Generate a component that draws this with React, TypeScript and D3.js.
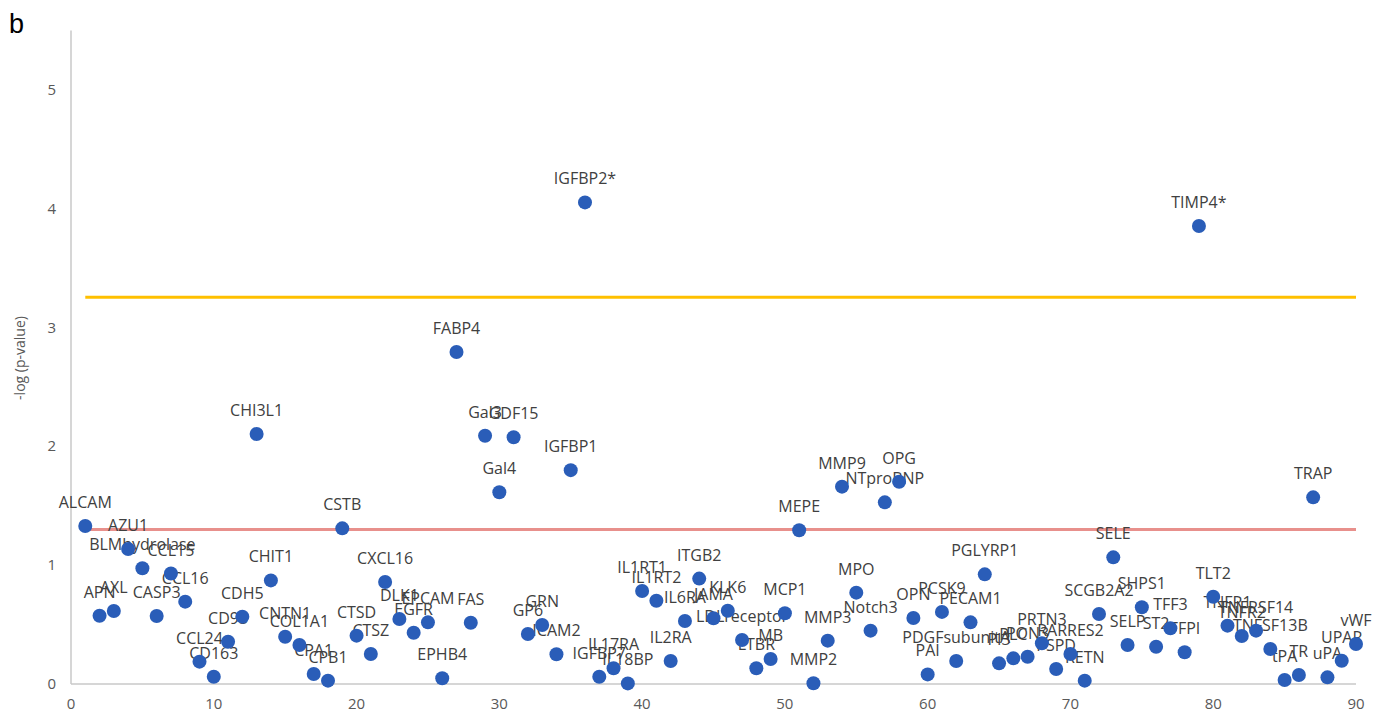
import React from "react";
import * as d3 from "d3";

const names: string[] = [
  "ALCAM", "APN", "AXL", "AZU1", "BLMhydrolase", "CASP3", "CCL15", "CCL16", "CCL24", "CD163",
  "CD93", "CDH5", "CHI3L1", "CHIT1", "CNTN1", "COL1A1", "CPA1", "CPB1", "CSTB", "CTSD",
  "CTSZ", "CXCL16", "DLK1", "EGFR", "EPCAM", "EPHB4", "FABP4", "FAS", "Gal3", "Gal4",
  "GDF15", "GP6", "GRN", "ICAM2", "IGFBP1", "IGFBP2*", "IGFBP7", "IL17RA", "IL18BP", "IL1RT1",
  "IL1RT2", "IL2RA", "IL6RA", "ITGB2", "JAMA", "KLK6", "LDLreceptor", "LTBR", "MB", "MCP1",
  "MEPE", "MMP2", "MMP3", "MMP9", "MPO", "Notch3", "NTproBNP", "OPG", "OPN", "PAI",
  "PCSK9", "PDGFsubunitA", "PECAM1", "PGLYRP1", "PI3", "PLC", "PON3", "PRTN3", "PSPD", "RARRES2",
  "RETN", "SCGB2A2", "SELE", "SELP", "SHPS1", "ST2", "TFF3", "TFPI", "TIMP4*", "TLT2",
  "TNFR1", "TNFR2", "TNFRSF14", "TNFSF13B", "tPA", "TR", "TRAP", "uPA", "UPAR", "vWF",
];

const negLogP: number[] = [
  1.33, 0.575, 0.614, 1.136, 0.974, 0.572, 0.93, 0.693, 0.188, 0.061,
  0.356, 0.567, 2.104, 0.872, 0.398, 0.328, 0.084, 0.028, 1.31, 0.407,
  0.253, 0.859, 0.547, 0.432, 0.519, 0.048, 2.795, 0.516, 2.09, 1.614,
  2.077, 0.421, 0.497, 0.25, 1.8, 4.054, 0.061, 0.132, 0.005, 0.783,
  0.701, 0.194, 0.53, 0.887, 0.553, 0.617, 0.37, 0.132, 0.21, 0.595,
  1.294, 0.006, 0.365, 1.661, 0.769, 0.449, 1.529, 1.703, 0.555, 0.081,
  0.607, 0.194, 0.519, 0.923, 0.174, 0.216, 0.23, 0.343, 0.126, 0.253,
  0.028, 0.589, 1.066, 0.328, 0.646, 0.314, 0.469, 0.267, 3.855, 0.735,
  0.491, 0.404, 0.449, 0.295, 0.034, 0.076, 1.571, 0.056, 0.196, 0.337,
];

const xTicks: number[] = [0, 10, 20, 30, 40, 50, 60, 70, 80, 90];
const yTicks: number[] = [0, 1, 2, 3, 4, 5];

const nominalThreshold = 1.301; // -log10(0.05)
const bonferroniThreshold = 3.255; // -log10(0.05/90)

const W = 1380;
const H = 715;

export default function App() {
  const x = d3.scaleLinear().domain([0, 90]).range([71, 1356]);
  const y = d3.scaleLinear().domain([0, 5.5]).range([684, 30.6]);
  const pts = names.map((n, i) => ({ name: n, idx: i + 1, v: negLogP[i] }));
  const font = "'Open Sans', 'Noto Sans', sans-serif";

  return (
    <svg
      width={W}
      height={H}
      style={{ position: "absolute", left: 0, top: 0, background: "#fff" }}
    >
      <rect x={0} y={0} width={W} height={H} fill="#fff" />
      <text x={9} y={33} fontFamily="'Liberation Sans', Arial, sans-serif" fontSize={27} fill="#000">
        b
      </text>

      {/* axes */}
      <line x1={x(0)} x2={x(0)} y1={y(5.5)} y2={y(0)} stroke="#c8c8c8" strokeWidth={1.5} />
      <line x1={x(0)} x2={x(90)} y1={y(0)} y2={y(0)} stroke="#c8c8c8" strokeWidth={1.5} />

      {yTicks.map((t) => (
        <text
          key={"yt" + t}
          x={56}
          y={y(t) + 5}
          textAnchor="end"
          fontFamily={font}
          fontSize={15}
          fill="#595959"
        >
          {t}
        </text>
      ))}
      {xTicks.map((t) => (
        <text
          key={"xt" + t}
          x={x(t)}
          y={709}
          textAnchor="middle"
          fontFamily={font}
          fontSize={15}
          fill="#595959"
        >
          {t}
        </text>
      ))}
      <text
        transform={`translate(25, 358) rotate(-90)`}
        textAnchor="middle"
        fontFamily={font}
        fontSize={14}
        fill="#595959"
      >
        -log (p-value)
      </text>

      {/* threshold lines */}
      <line
        x1={x(1)}
        x2={x(90)}
        y1={y(bonferroniThreshold)}
        y2={y(bonferroniThreshold)}
        stroke="#ffc000"
        strokeWidth={3}
      />
      <line
        x1={x(1)}
        x2={x(90)}
        y1={y(nominalThreshold)}
        y2={y(nominalThreshold)}
        stroke="#e8908c"
        strokeWidth={3}
      />

      {/* labels */}
      {pts.map((p) => (
        <text
          key={"l" + p.idx}
          x={x(p.idx)}
          y={y(p.v) - 18}
          textAnchor="middle"
          fontFamily={font}
          fontSize={16}
          fill="#404040"
        >
          {p.name}
        </text>
      ))}

      {/* points */}
      {pts.map((p) => (
        <circle key={"c" + p.idx} cx={x(p.idx)} cy={y(p.v)} r={7} fill="#2a5db8" />
      ))}
    </svg>
  );
}
